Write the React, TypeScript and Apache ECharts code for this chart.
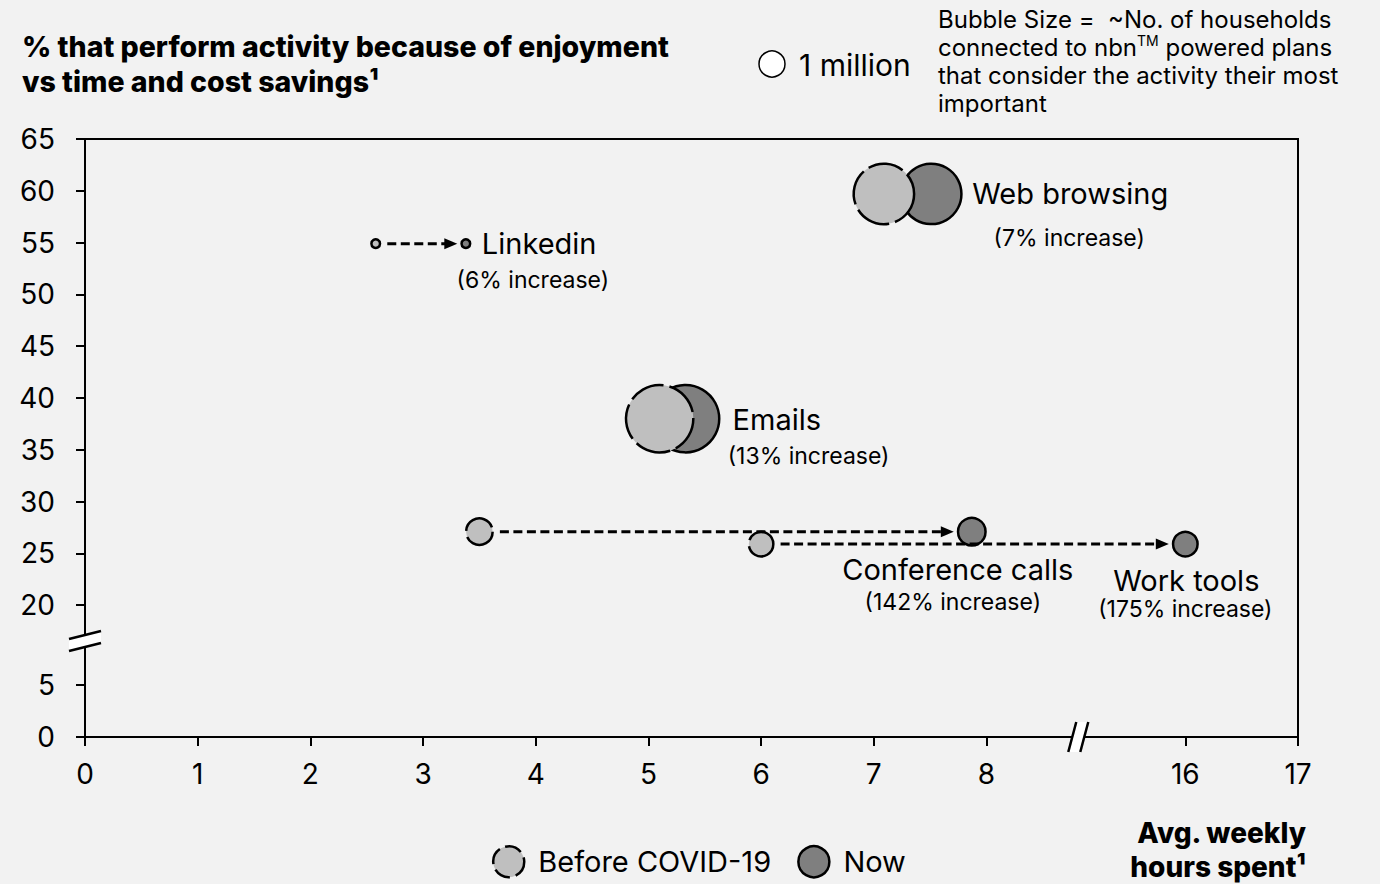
import React, { useEffect, useRef } from 'react';
import * as echarts from 'echarts';

// ---------- data ----------
const categories = ['Linkedin', 'Web browsing', 'Emails', 'Conference calls', 'Work tools'];
const increaseLabels = ['(6% increase)', '(7% increase)', '(13% increase)', '(142% increase)', '(175% increase)'];
const beforeHours = [2.58, 7.09, 5.1, 3.5, 6.0];
const nowHours = [3.38, 7.51, 5.33, 7.87, 16];
const enjoymentPct = [54.9, 59.7, 38.0, 27.1, 25.9];
const beforeMillions = [0.11, 5.4, 6.7, 1.04, 0.89];
const nowMillions = [0.11, 5.4, 6.7, 1.12, 0.89];
const showArrow = [true, false, false, true, true];

const xTickValues = [0, 1, 2, 3, 4, 5, 6, 7, 8, 16, 17];
const yTickValues = [0, 5, 20, 25, 30, 35, 40, 45, 50, 55, 60, 65];

// ---------- broken-axis mapping ----------
const X_BREAK_FROM = 8;
const X_BREAK_TO = 16;
const X_BREAK_SPAN = 1.765;
const Y_BREAK_FROM = 5;
const Y_BREAK_TO = 20;
const Y_BREAK_SPAN = 7.72;
const X_BREAK_MARK = 8.815;
const Y_BREAK_MARK = 9.27;

const toAxisX = (v: number) => (v <= X_BREAK_FROM ? v : X_BREAK_FROM + X_BREAK_SPAN + (v - X_BREAK_TO));
const fromAxisX = (a: number) => (a <= X_BREAK_FROM + 1e-6 ? a : a - X_BREAK_FROM - X_BREAK_SPAN + X_BREAK_TO);
const toAxisY = (v: number) => (v <= Y_BREAK_FROM ? v : Y_BREAK_FROM + Y_BREAK_SPAN + (v - Y_BREAK_TO));
const fromAxisY = (a: number) => (a <= Y_BREAK_FROM + 1e-6 ? a : a - Y_BREAK_FROM - Y_BREAK_SPAN + Y_BREAK_TO);

// bubble diameter (px) per sqrt(million households)
const SIZE_PER_SQRT_MILLION = 26;
const sizeOf = (m: number) => SIZE_PER_SQRT_MILLION * Math.sqrt(m);

const FONT = 'Inter, "Noto Sans", sans-serif';
const BEFORE_FILL = '#bfbfbf';
const NOW_FILL = '#7f7f7f';
const BUBBLE_BORDER = 2.5;

// label placement (px offsets from the "now" bubble centre)
const titleStyle = [
  { align: 'left', offset: [16, 0] },
  { align: 'left', offset: [41, 0] },
  { align: 'left', offset: [47, 1] },
  { align: 'center', offset: [-14, 38] },
  { align: 'center', offset: [1, 36] },
];
const subStyle = [
  { offset: [67, 36] },
  { offset: [138, 44] },
  { offset: [123, 37] },
  { offset: [-19, 70] },
  { offset: [0, 65] },
];

export default function App() {
  const ref = useRef<HTMLDivElement>(null);

  useEffect(() => {
    if (!ref.current) return;
    const chart = echarts.init(ref.current, undefined, { renderer: 'svg' });

    const nowData = categories.map((c, i) => ({
      name: c,
      value: [toAxisX(nowHours[i]), toAxisY(enjoymentPct[i]), nowMillions[i]],
      label: {
        show: true,
        formatter: c,
        position: ['50%', '50%'],
        align: titleStyle[i].align,
        verticalAlign: 'middle',
        offset: titleStyle[i].offset,
      },
    }));
    const subData = categories.map((c, i) => ({
      name: c,
      value: [toAxisX(nowHours[i]), toAxisY(enjoymentPct[i]), nowMillions[i]],
      label: {
        show: true,
        formatter: increaseLabels[i],
        position: ['50%', '50%'],
        align: 'center',
        verticalAlign: 'middle',
        offset: subStyle[i].offset,
      },
    }));
    const beforeData = categories.map((c, i) => ({
      name: c,
      value: [toAxisX(beforeHours[i]), toAxisY(enjoymentPct[i]), beforeMillions[i]],
    }));
    const arrowData = categories
      .map((c, i) => ({ c, i }))
      .filter((d) => showArrow[d.i])
      .map(({ i }) => [
        toAxisX(beforeHours[i]),
        toAxisY(enjoymentPct[i]),
        toAxisX(nowHours[i]),
        sizeOf(beforeMillions[i]) / 2 + BUBBLE_BORDER / 2,
        sizeOf(nowMillions[i]) / 2 + BUBBLE_BORDER / 2,
      ]);

    const axisText = { color: '#000', fontSize: 28, fontFamily: FONT };

    chart.setOption({
      animation: false,
      backgroundColor: '#f2f2f2',
      textStyle: { fontFamily: FONT },
      grid: {
        left: 85,
        right: 82,
        top: 139,
        bottom: 147,
        show: true,
        borderColor: '#000',
        borderWidth: 2,
        backgroundColor: 'transparent',
        containLabel: false,
        outerBoundsMode: 'none',
      },
      xAxis: {
        type: 'value',
        min: 0,
        max: toAxisX(17),
        splitLine: { show: false },
        axisLine: { show: true, onZero: false, lineStyle: { color: '#000', width: 2 } },
        axisTick: {
          show: true,
          length: 9,
          customValues: xTickValues.map(toAxisX),
          lineStyle: { color: '#000', width: 2 },
        },
        axisLabel: {
          ...axisText,
          margin: 23,
          customValues: xTickValues.map(toAxisX),
          formatter: (v: number) => String(Math.round(fromAxisX(v))),
        },
      },
      yAxis: {
        type: 'value',
        min: 0,
        max: toAxisY(65),
        splitLine: { show: false },
        axisLine: { show: true, onZero: false, lineStyle: { color: '#000', width: 2 } },
        axisTick: {
          show: true,
          length: 9,
          customValues: yTickValues.map(toAxisY),
          lineStyle: { color: '#000', width: 2 },
        },
        axisLabel: {
          ...axisText,
          margin: 30,
          customValues: yTickValues.map(toAxisY),
          formatter: (v: number) => String(Math.round(fromAxisY(v))),
        },
      },
      legend: {
        show: true,
        selectedMode: false,
        left: 487,
        top: 840,
        itemWidth: 31,
        itemHeight: 31,
        itemGap: 26,
        textStyle: { color: '#000', fontSize: 29, fontFamily: FONT, padding: [0, 0, 0, 9] },
        data: [
          {
            name: 'Before COVID-19',
            icon: 'circle',
            itemStyle: { color: BEFORE_FILL, borderColor: '#000', borderWidth: 2.5, borderType: [17, 6] },
          },
          {
            name: 'Now',
            icon: 'circle',
            itemStyle: { color: NOW_FILL, borderColor: '#000', borderWidth: 2.5, borderType: 'solid' },
          },
        ],
      },
      series: [
        {
          name: 'Now',
          type: 'scatter',
          z: 2,
          symbol: 'circle',
          symbolSize: (v: number[]) => sizeOf(v[2]),
          itemStyle: { color: NOW_FILL, borderColor: '#000', borderWidth: BUBBLE_BORDER, opacity: 1 },
          label: {
            color: '#000',
            fontSize: 29,
            lineHeight: 30,
            fontFamily: FONT,
            textBorderWidth: 0,
            opacity: 1,
          },
          emphasis: { disabled: true },
          data: nowData,
        },
        {
          name: 'NowSub',
          type: 'scatter',
          z: 2,
          silent: true,
          symbol: 'circle',
          symbolSize: (v: number[]) => sizeOf(v[2]),
          itemStyle: { color: 'rgba(0,0,0,0)', borderWidth: 0 },
          label: {
            color: '#000',
            fontSize: 23,
            lineHeight: 24,
            fontFamily: FONT,
            textBorderWidth: 0,
            opacity: 1,
          },
          emphasis: { disabled: true },
          data: subData,
        },
        {
          name: 'Before COVID-19',
          type: 'scatter',
          z: 3,
          symbol: 'circle',
          symbolSize: (v: number[]) => sizeOf(v[2]),
          itemStyle: {
            color: BEFORE_FILL,
            borderColor: '#000',
            borderWidth: BUBBLE_BORDER,
            borderType: [36, 6],
            opacity: 1,
          },
          emphasis: { disabled: true },
          data: beforeData,
        },
        {
          name: 'arrows',
          type: 'custom',
          z: 4,
          silent: true,
          clip: false,
          renderItem: (_params: any, api: any) => {
            const y = api.value(1);
            const p0 = api.coord([api.value(0), y]);
            const p1 = api.coord([api.value(2), y]);
            const xs = p0[0] + api.value(3) + 6;
            const tip = p1[0] - api.value(4) - 3;
            const headLen = 13;
            const headHalf = 5.5;
            return {
              type: 'group',
              children: [
                {
                  type: 'line',
                  shape: { x1: xs, y1: p0[1], x2: tip - headLen + 1, y2: p0[1] },
                  style: { stroke: '#000', lineWidth: 3, lineDash: [9, 4.5] },
                },
                {
                  type: 'polygon',
                  shape: {
                    points: [
                      [tip - headLen, p0[1] - headHalf],
                      [tip, p0[1]],
                      [tip - headLen, p0[1] + headHalf],
                    ],
                  },
                  style: { fill: '#000' },
                },
              ],
            };
          },
          data: arrowData,
        },
        {
          name: 'breaks',
          type: 'custom',
          z: 10,
          silent: true,
          clip: false,
          renderItem: (_params: any, api: any) => {
            const kind = api.value(2);
            const c = api.coord([api.value(0), api.value(1)]);
            const cx = c[0];
            const cy = c[1];
            let a: number[][];
            let b: number[][];
            if (kind === 0) {
              a = [[cx - 10, cy + 15], [cx - 2, cy - 15]];
              b = [[cx + 2, cy + 15], [cx + 10, cy - 15]];
            } else {
              a = [[cx - 16, cy - 2], [cx + 16, cy - 10]];
              b = [[cx - 16, cy + 10], [cx + 16, cy + 2]];
            }
            const ln = { stroke: '#000', lineWidth: 2.5 };
            return {
              type: 'group',
              children: [
                { type: 'polygon', shape: { points: [a[0], a[1], b[1], b[0]] }, style: { fill: '#ffffff' } },
                { type: 'line', shape: { x1: a[0][0], y1: a[0][1], x2: a[1][0], y2: a[1][1] }, style: ln },
                { type: 'line', shape: { x1: b[0][0], y1: b[0][1], x2: b[1][0], y2: b[1][1] }, style: ln },
              ],
            };
          },
          data: [
            [X_BREAK_MARK, 0, 0],
            [0, Y_BREAK_MARK, 1],
          ],
        },
      ],
      graphic: [
        {
          type: 'text',
          left: 22,
          top: 29,
          style: {
            text: '% that perform activity because of enjoyment\nvs time and cost savings¹',
            fontSize: 28.5,
            fontWeight: 800,
            fontFamily: FONT,
            lineHeight: 35,
            fill: '#000',
          },
        },
        {
          type: 'circle',
          shape: { cx: 772, cy: 64, r: sizeOf(1) / 2 },
          style: { fill: '#ffffff', stroke: '#000', lineWidth: 1.5 },
        },
        {
          type: 'text',
          x: 799,
          y: 65,
          style: {
            text: '1 million',
            fontSize: 30,
            fontFamily: FONT,
            fill: '#000',
            verticalAlign: 'middle',
            align: 'left',
          },
        },
        {
          type: 'text',
          x: 938,
          y: 5,
          style: {
            text:
              'Bubble Size =  ~No. of households\nconnected to nbn{sup|TM} powered plans\nthat consider the activity their most\nimportant',
            fontSize: 24,
            fontFamily: FONT,
            lineHeight: 28,
            fill: '#000',
            rich: {
              sup: { fontSize: 14, lineHeight: 18, verticalAlign: 'top', fontFamily: FONT, fill: '#000' },
            },
          },
        },
        {
          type: 'text',
          x: 1306,
          y: 816,
          style: {
            text: 'Avg. weekly\nhours spent¹',
            fontSize: 28,
            fontWeight: 800,
            fontFamily: FONT,
            lineHeight: 34,
            fill: '#000',
            align: 'right',
          },
        },
      ],
    });

    return () => chart.dispose();
  }, []);

  return (
    <div
      ref={ref}
      style={{ position: 'absolute', left: 0, top: 0, width: 1380, height: 884 }}
    />
  );
}
